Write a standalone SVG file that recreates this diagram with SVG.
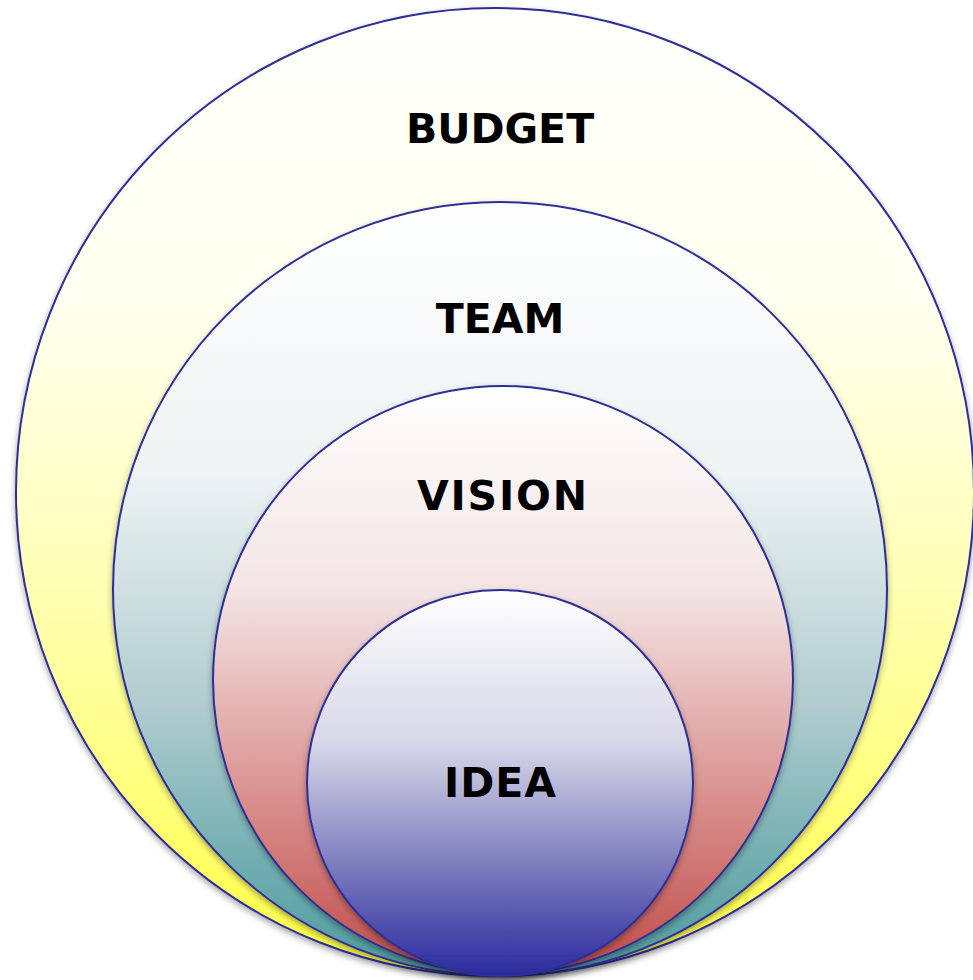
<svg xmlns="http://www.w3.org/2000/svg" width="973" height="980" viewBox="0 0 973 980">
<defs>
<linearGradient id="gBudget" x1="0" y1="0" x2="0" y2="1">
<stop offset="0" stop-color="#fffffc"/>
<stop offset="0.3" stop-color="#fffff0"/>
<stop offset="0.6" stop-color="#ffffb4"/>
<stop offset="0.8" stop-color="#ffff80"/>
<stop offset="1" stop-color="#ffff40"/>
</linearGradient>
<linearGradient id="gTeam" x1="0" y1="0" x2="0" y2="1">
<stop offset="0" stop-color="#ffffff"/>
<stop offset="0.35" stop-color="#eef3f4"/>
<stop offset="0.65" stop-color="#b0cccf"/>
<stop offset="0.85" stop-color="#72aeb1"/>
<stop offset="1" stop-color="#4f9a9e"/>
</linearGradient>
<linearGradient id="gVision" x1="0" y1="0" x2="0" y2="1">
<stop offset="0" stop-color="#ffffff"/>
<stop offset="0.35" stop-color="#f3e4e4"/>
<stop offset="0.7" stop-color="#d9908e"/>
<stop offset="1" stop-color="#bf4c48"/>
</linearGradient>
<linearGradient id="gIdea" x1="0" y1="0" x2="0" y2="1">
<stop offset="0" stop-color="#ffffff"/>
<stop offset="0.4" stop-color="#d6d6e8"/>
<stop offset="0.7" stop-color="#8080c0"/>
<stop offset="1" stop-color="#2a2a9e"/>
</linearGradient>
<filter id="shadow" x="-10%" y="-10%" width="120%" height="125%">
<feDropShadow dx="0" dy="3" stdDeviation="3" flood-color="#000" flood-opacity="0.35"/>
</filter>
</defs>
<style>
.ring { stroke: #2e2e96; stroke-width: 2; filter: url(#shadow); }
.lbl { font-family: "DejaVu Sans", Verdana, sans-serif; font-weight: bold; font-size: 41px; fill: #000; text-anchor: middle; }
</style>
<g id="budget">
<ellipse class="ring" cx="495" cy="492" rx="479" ry="484" fill="url(#gBudget)"/>
<text class="lbl" x="500" y="143">BUDGET</text>
</g>
<g id="team">
<ellipse class="ring" cx="500" cy="589" rx="387" ry="387" fill="url(#gTeam)"/>
<text class="lbl" x="500" y="333">TEAM</text>
</g>
<g id="vision">
<ellipse class="ring" cx="503" cy="680" rx="290" ry="294" fill="url(#gVision)"/>
<text class="lbl" x="502" y="510" textLength="170" lengthAdjust="spacing">VISION</text>
</g>
<g id="idea">
<ellipse class="ring" cx="500" cy="783" rx="193" ry="193" fill="url(#gIdea)"/>
<text class="lbl" x="500" y="797" textLength="112" lengthAdjust="spacing">IDEA</text>
</g>
<g id="connectors"/>
</svg>
